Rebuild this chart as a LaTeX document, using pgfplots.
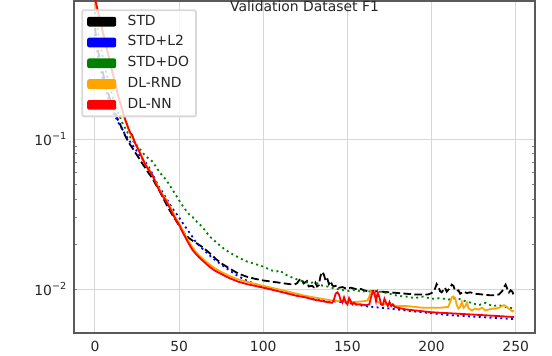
\documentclass[border=0pt]{standalone}
\usepackage{fontspec}
\setmainfont{DejaVu Sans}
\usepackage{pgfplots}
\pgfplotsset{compat=1.18}

\definecolor{mplorange}{RGB}{255,165,0}
\definecolor{mplgreen}{RGB}{0,128,0}
\definecolor{gridgray}{RGB}{214,214,214}
\definecolor{spine}{RGB}{90,90,90}
\definecolor{txt}{RGB}{38,38,38}

\newcommand{\fs}{\fontsize{13.9}{16}\selectfont}
\newcommand{\tenexp}[1]{10\raisebox{0.42em}{\fontsize{9.7}{10}\selectfont #1}}

\begin{document}
\begin{tikzpicture}
\begin{axis}[
  scale only axis,
  width=461pt, height=332pt,
  at={(0pt,0pt)}, anchor=south west,
  ymode=log,
  xmin=-12.45, xmax=261.45,
  ymin=0.00509, ymax=0.832,
  xtick={0,50,100,150,200,250},
  ytick={0.01,0.1},
  yticklabels={\tenexp{−2},\tenexp{−1}},
  minor ytick={},
  major tick length=0pt,
  grid=major,
  major grid style={gridgray, line width=1pt},
  axis line style={spine, line width=1.2pt},
  tick label style={font=\fs, text=txt},
  /pgf/number format/assume math mode=true,
  xticklabel style={yshift=-4pt},
  yticklabel style={xshift=-3.4pt},
  legend cell align=left,
  legend image code/.code={\fill[#1, solid, draw=none, fill opacity=1] (0pt,-4.85pt) rectangle (29pt,4.85pt);},
  legend style={
    at={(0.0158,0.975)}, anchor=north west,
    font=\fs, text=txt, draw=black!15, fill=white, fill opacity=0.8, text opacity=1,
    rounded corners=2pt, inner xsep=5pt, inner ysep=2.5pt,
    row sep=2.8pt,
    nodes={inner sep=2pt, text height=10.5pt, text depth=3.5pt},
    /tikz/every odd column/.append style={column sep=9.5pt},
  },
  line width=1.8pt,
]
% STD
\addplot[black, dash pattern=on 7.7pt off 3.3pt] coordinates {
(0,0.55) (2,0.38) (4,0.3) (6,0.24) (8,0.2) (10,0.17) (12,0.148) (14,0.132) (16,0.118) (18,0.105)
(20,0.095) (22,0.088) (24,0.081) (26,0.075) (28,0.069) (30,0.064) (32,0.059) (34,0.055) (36,0.05)
(38,0.046) (40,0.0415) (42,0.0375) (44,0.034) (46,0.0312) (48,0.0288) (50,0.0265) (52,0.0245)
(54,0.0229) (56,0.0218) (58,0.021) (60,0.0203) (64,0.019) (68,0.0174) (72,0.0158) (76,0.0146)
(80,0.0137) (85,0.0127) (90,0.0121) (95,0.0117) (100,0.0114) (105,0.0112) (110,0.011) (115,0.0108)
(118,0.0107) (120,0.0109) (122,0.0117) (123,0.0115) (124,0.0109) (126,0.0113) (127,0.0104)
(129,0.0105) (130,0.0103) (131,0.011) (132,0.0104) (133,0.0106) (134,0.0122) (135,0.013)
(136,0.0125) (137,0.0114) (138,0.0118) (139,0.0108) (140,0.0113) (141,0.0106) (142,0.0104)
(144,0.0106) (145,0.0102) (147,0.0103) (149,0.0101) (152,0.0102) (155,0.01) (158,0.01)
(160,0.0098) (163,0.0096) (165,0.0097) (170,0.0096) (175,0.0095) (180,0.0094) (185,0.0093)
(190,0.0092) (195,0.0092) (198,0.0092) (200,0.0094) (202,0.01) (203,0.0108) (204,0.0104)
(205,0.0097) (206,0.0095) (208,0.0102) (209,0.0096) (211,0.0102) (212,0.0107) (213,0.0105)
(214,0.0097) (216,0.0098) (217,0.0093) (219,0.0096) (221,0.0094) (223,0.0095) (226,0.0093)
(230,0.0092) (234,0.0091) (238,0.0091) (240,0.0092) (242,0.0097) (243,0.0103) (244,0.0107)
(245,0.01) (246,0.0095) (247,0.0098) (248,0.0096) (249,0.0089)
};
\addlegendentry{STD}
% STD+L2
\addplot[blue, dash pattern=on 2pt off 3.4pt] coordinates {
(0,0.5) (2,0.34) (4,0.27) (6,0.22) (8,0.185) (10,0.16) (12,0.142) (14,0.128) (16,0.117) (18,0.107)
(20,0.099) (22,0.092) (24,0.086) (26,0.079) (28,0.074) (30,0.07) (32,0.065) (34,0.059) (36,0.053)
(38,0.048) (40,0.0445) (42,0.041) (44,0.0375) (46,0.0345) (48,0.0322) (50,0.03) (52,0.0277)
(54,0.0257) (56,0.0239) (58,0.0222) (60,0.0205) (64,0.0185) (68,0.0168) (72,0.0154) (76,0.0143)
(80,0.0133) (85,0.0122) (90,0.0114) (95,0.0108) (100,0.0103) (106,0.01) (110,0.0096) (115,0.0093)
(120,0.0091) (126,0.0089) (130,0.0087) (135,0.0085) (140,0.0083) (146,0.0082) (150,0.0081)
(155,0.0079) (160,0.0077) (165,0.0076) (170,0.0075) (175,0.0074) (180,0.0073) (189,0.0071)
(200,0.0069) (210,0.0067) (220,0.0066) (229,0.0065) (240,0.0064) (249,0.0063)
};
\addlegendentry{STD+L2}
% STD+DO
\addplot[mplgreen, dash pattern=on 2pt off 3.4pt] coordinates {
(0,0.7) (2,0.5) (4,0.38) (6,0.3) (8,0.24) (10,0.2) (12,0.17) (14,0.148) (16,0.13) (18,0.118)
(20,0.107) (22,0.099) (24,0.093) (26,0.088) (28,0.082) (30,0.077) (32,0.074) (34,0.071) (36,0.066)
(38,0.061) (40,0.057) (42,0.054) (44,0.05) (46,0.046) (48,0.0425) (50,0.039) (52,0.036)
(54,0.0335) (56,0.0315) (58,0.0302) (60,0.0285) (64,0.0258) (68,0.0225) (72,0.0205) (76,0.0188)
(80,0.0175) (85,0.0163) (90,0.0153) (95,0.0147) (100,0.0141) (105,0.0133) (108,0.0131)
(110,0.0133) (112,0.0127) (115,0.0122) (120,0.0116) (125,0.0111) (128,0.011) (131,0.0111)
(134,0.0106) (138,0.0104) (142,0.0101) (146,0.0099) (150,0.0097) (155,0.0099) (158,0.0096)
(162,0.0097) (166,0.0095) (170,0.0096) (175,0.0093) (180,0.009) (185,0.0089) (190,0.0087)
(195,0.0089) (200,0.0086) (205,0.0087) (210,0.0085) (215,0.0087) (220,0.0083) (225,0.008)
(228,0.0078) (232,0.0081) (236,0.0077) (240,0.0078) (244,0.0076) (249,0.0074)
};
\addlegendentry{STD+DO}
% DL-RND
\addplot[mplorange] coordinates {
(0,0.8) (2,0.66) (4,0.54) (6,0.44) (8,0.36) (10,0.29) (12,0.235) (14,0.19) (16,0.158) (18,0.133)
(20,0.115) (22,0.103) (24,0.094) (26,0.085) (28,0.076) (30,0.068) (32,0.063) (34,0.058) (36,0.052)
(38,0.047) (40,0.043) (42,0.04) (44,0.0365) (46,0.033) (48,0.0298) (50,0.0275) (52,0.0248)
(54,0.0225) (56,0.0205) (58,0.0189) (60,0.0177) (62,0.0167) (65,0.0156) (68,0.0146) (71,0.0138)
(75,0.013) (80,0.0122) (85,0.0116) (90,0.0112) (95,0.0108) (100,0.0105) (105,0.0102) (110,0.0099)
(115,0.0096) (120,0.0093) (125,0.009) (130,0.0088) (135,0.0086) (140,0.0084) (145,0.0083)
(150,0.0082) (155,0.0082) (160,0.0083) (162,0.0084) (163,0.0089) (164,0.0096) (165,0.0093)
(166,0.0096) (167,0.0085) (168,0.0082) (170,0.008) (175,0.0079) (180,0.0077) (185,0.0077)
(190,0.0076) (195,0.0075) (200,0.0075) (205,0.0075) (210,0.0076) (211,0.0082) (212,0.0088)
(213,0.0089) (214,0.0087) (215,0.0078) (216,0.0074) (217,0.0076) (218,0.0082) (219,0.0075)
(220,0.0077) (221,0.0081) (222,0.0074) (224,0.0072) (226,0.0074) (228,0.0073) (230,0.0075)
(232,0.0072) (234,0.0073) (236,0.0074) (238,0.0074) (240,0.0075) (242,0.0077) (243,0.0078)
(244,0.0077) (246,0.0074) (248,0.0071) (249,0.0072)
};
\addlegendentry{DL-RND}
% DL-NN
\addplot[red] coordinates {
(0,0.86) (2,0.7) (4,0.56) (6,0.45) (8,0.36) (10,0.29) (12,0.235) (14,0.19) (16,0.16) (18,0.135)
(20,0.117) (21,0.11) (22,0.107) (23,0.1) (24,0.093) (26,0.084) (28,0.075) (30,0.067) (32,0.062)
(34,0.058) (36,0.051) (38,0.046) (40,0.042) (42,0.039) (44,0.0355) (46,0.032) (48,0.029)
(50,0.0268) (52,0.024) (54,0.0218) (56,0.0198) (58,0.0182) (60,0.0171) (62,0.0162) (65,0.0151)
(68,0.0141) (71,0.0133) (75,0.0126) (80,0.0118) (85,0.0112) (90,0.0108) (95,0.0105) (100,0.0102)
(105,0.0099) (110,0.0096) (115,0.0093) (120,0.009) (125,0.0088) (130,0.0085) (135,0.0083)
(140,0.0081) (141,0.0081) (142,0.0085) (143,0.0093) (144,0.0095) (145,0.0092) (146,0.0084)
(147,0.0081) (148,0.0088) (149,0.0082) (150,0.0079) (151,0.0087) (152,0.0083) (153,0.0079)
(154,0.0081) (155,0.0079) (158,0.0079) (161,0.0078) (163,0.0079) (164,0.0088) (165,0.0096)
(166,0.0094) (167,0.0083) (168,0.0095) (169,0.0088) (170,0.0079) (171,0.0078) (172,0.0086)
(173,0.0081) (174,0.0077) (175,0.0082) (176,0.0077) (177,0.0079) (178,0.0076) (180,0.0075)
(185,0.0073) (190,0.0072) (200,0.007) (210,0.0069) (220,0.0068) (230,0.0067) (240,0.0066)
(249,0.0065)
};
\addlegendentry{DL-NN}
\node[anchor=base, font=\fs, text=txt] at (axis description cs:0.5,0.967) {Validation Dataset F1};
\end{axis}
\pgfresetboundingbox
\path (-74pt,-23pt) rectangle (478pt,333pt);
\end{tikzpicture}
\end{document}
